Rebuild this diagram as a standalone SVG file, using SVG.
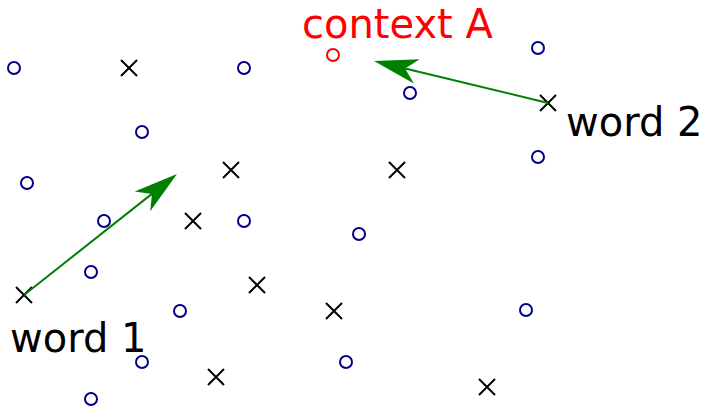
<svg xmlns="http://www.w3.org/2000/svg" width="705" height="408" viewBox="0 0 705 408">
<style>
.pt{fill:none;stroke:#00008B;stroke-width:2}
.ctx{fill:none;stroke:#FF0000;stroke-width:2}
.x{stroke:#000;stroke-width:2;fill:none}
.conn{stroke:#008000;stroke-width:2;fill:none}
.lbl{font-family:"DejaVu Sans",sans-serif;font-size:40px}
</style>
<defs>
<marker id="ah" markerUnits="userSpaceOnUse" orient="auto" overflow="visible" markerWidth="1" markerHeight="1" refX="0" refY="0">
<path d="M32,0 L-12,-12.5 L0,0 L-12,12.5 Z" fill="#008000"/>
</marker>
<g id="xm"><path class="x" d="M-8,-8 L8,8 M-8,8 L8,-8"/></g>
</defs>
<rect width="705" height="408" fill="#fff"/>
<g id="points">
<circle class="pt" cx="14" cy="68" r="6"/>
<circle class="pt" cx="244" cy="68" r="6"/>
<circle class="pt" cx="142" cy="132" r="6"/>
<circle class="pt" cx="410" cy="93" r="6"/>
<circle class="pt" cx="538" cy="48" r="6"/>
<circle class="pt" cx="538" cy="157" r="6"/>
<circle class="pt" cx="27" cy="183" r="6"/>
<circle class="pt" cx="104" cy="221" r="6"/>
<circle class="pt" cx="244" cy="221" r="6"/>
<circle class="pt" cx="359" cy="234" r="6"/>
<circle class="pt" cx="91" cy="272" r="6"/>
<circle class="pt" cx="180" cy="311" r="6"/>
<circle class="pt" cx="142" cy="362" r="6"/>
<circle class="pt" cx="346" cy="362" r="6"/>
<circle class="pt" cx="526" cy="310" r="6"/>
<circle class="pt" cx="91" cy="399" r="6"/>
</g>
<g id="crosses">
<use href="#xm" x="129" y="68"/>
<use href="#xm" x="231" y="170"/>
<use href="#xm" x="397" y="170"/>
<use href="#xm" x="193" y="221"/>
<use href="#xm" x="257" y="285"/>
<use href="#xm" x="334" y="311"/>
<use href="#xm" x="216" y="377"/>
<use href="#xm" x="487" y="387"/>
</g>
<g id="contextA">
<circle class="ctx" cx="333" cy="55" r="6"/>
<text class="lbl" x="302" y="38" fill="#FF0000">context A</text>
</g>
<g id="word1">
<use href="#xm" x="24" y="295"/>
<text class="lbl" x="10" y="352" fill="#000">word 1</text>
</g>
<g id="word2">
<use href="#xm" x="548" y="103"/>
<text class="lbl" x="566" y="136" fill="#000">word 2</text>
</g>
<g id="connectors">
<line class="conn" x1="24" y1="295" x2="151.9" y2="193.9" marker-end="url(#ah)"/>
<line class="conn" x1="548" y1="103" x2="405.1" y2="68.5" marker-end="url(#ah)"/>
</g>
</svg>
